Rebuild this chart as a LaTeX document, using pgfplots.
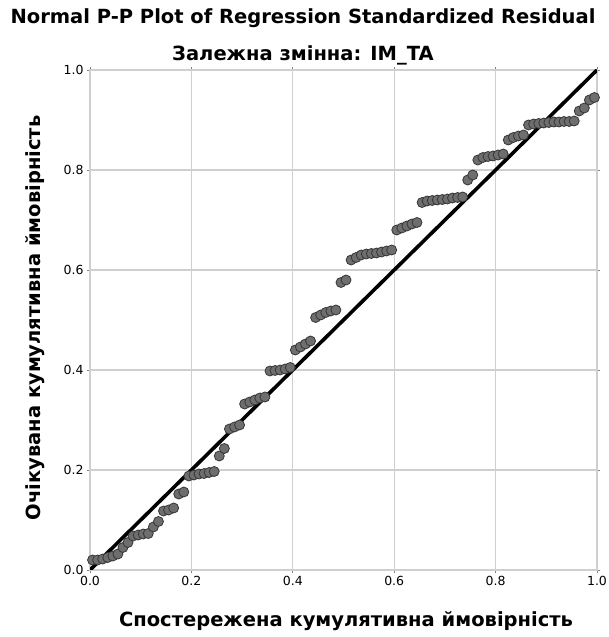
\documentclass[border=0pt]{standalone}
\usepackage{fontspec}
\setmainfont{DejaVu Sans}
\usepackage{pgfplots}
\pgfplotsset{compat=1.18}

\definecolor{ptfill}{HTML}{6E6E6E}
\definecolor{ptdraw}{HTML}{363636}
\definecolor{gridgray}{HTML}{CFCFCF}

\begin{document}
\begin{tikzpicture}
\begin{axis}[
  scale only axis,
  width=507pt, height=500pt,
  xmin=0, xmax=1, ymin=0, ymax=1,
  xtick={0,0.2,0.4,0.6,0.8,1},
  ytick={0,0.2,0.4,0.6,0.8,1},
  grid=major,
  grid style={draw=gridgray, line width=1.2pt},
  axis line style={draw=gridgray, line width=1.2pt},
  tick style={draw=gray, line width=0.8pt},
  tick align=outside,
  major tick length=3pt,
  ticklabel style={font=\fontsize{12.5}{12.5}\selectfont},
  /pgf/number format/fixed,
  /pgf/number format/fixed zerofill,
  /pgf/number format/precision=1,
  /pgf/number format/assume math mode=true,
]
\addplot[only marks, mark=*, mark size=5pt,
  mark options={fill=ptfill, draw=ptdraw, line width=0.8pt}] coordinates {
(0.005,0.020) (0.015,0.020) (0.025,0.022) (0.035,0.025) (0.045,0.028)
(0.055,0.032) (0.065,0.045) (0.075,0.055) (0.085,0.068) (0.095,0.070)
(0.105,0.072) (0.115,0.073) (0.125,0.086) (0.135,0.097) (0.145,0.118)
(0.155,0.120) (0.165,0.124) (0.175,0.152) (0.185,0.156) (0.195,0.188)
(0.205,0.190) (0.215,0.192) (0.225,0.193) (0.235,0.195) (0.245,0.197)
(0.255,0.228) (0.265,0.243) (0.275,0.282) (0.285,0.286) (0.295,0.290)
(0.305,0.332) (0.315,0.336) (0.325,0.340) (0.335,0.344) (0.345,0.346)
(0.355,0.398) (0.365,0.399) (0.375,0.400) (0.385,0.402) (0.395,0.405)
(0.405,0.440) (0.415,0.446) (0.425,0.452) (0.435,0.458) (0.445,0.505)
(0.455,0.510) (0.465,0.515) (0.475,0.518) (0.485,0.520) (0.495,0.575)
(0.505,0.580) (0.515,0.620) (0.525,0.625) (0.535,0.630) (0.545,0.632)
(0.555,0.633) (0.565,0.634) (0.575,0.636) (0.585,0.638) (0.595,0.640)
(0.605,0.680) (0.615,0.684) (0.625,0.688) (0.635,0.692) (0.645,0.695)
(0.655,0.735) (0.665,0.738) (0.675,0.739) (0.685,0.740) (0.695,0.741)
(0.705,0.742) (0.715,0.744) (0.725,0.745) (0.735,0.746) (0.745,0.780)
(0.755,0.790) (0.765,0.820) (0.775,0.825) (0.785,0.827) (0.795,0.828)
(0.805,0.830) (0.815,0.832) (0.825,0.860) (0.835,0.865) (0.845,0.868)
(0.855,0.870) (0.865,0.890) (0.875,0.892) (0.885,0.893) (0.895,0.894)
(0.905,0.895) (0.915,0.896) (0.925,0.896) (0.935,0.897) (0.945,0.897)
(0.955,0.898) (0.965,0.918) (0.975,0.924) (0.985,0.940) (0.995,0.945)
};
\addplot[black, line width=3.6pt] coordinates {(0,0) (1,1)};
\end{axis}
% titles and axis labels, positions in px of the 608x637 reference
\node[font=\bfseries\fontsize{19.5}{19.5}\selectfont] at (213pt,552pt)
  {Normal P-P Plot of Regression Standardized Residual};
\node[font=\bfseries\fontsize{19.5}{19.5}\selectfont] at (213pt,515pt)
  {Залежна змінна: IM\_TA};
\node[font=\bfseries\fontsize{19.5}{19.5}\selectfont] at (256pt,-51pt)
  {Спостережена кумулятивна ймовірність};
\node[font=\bfseries\fontsize{19.5}{19.5}\selectfont, rotate=90] at (-55pt,252pt)
  {Очікувана кумулятивна ймовірність};
\pgfresetboundingbox
\path (-90pt,-67pt) rectangle (518pt,570pt);
\end{tikzpicture}
\end{document}
